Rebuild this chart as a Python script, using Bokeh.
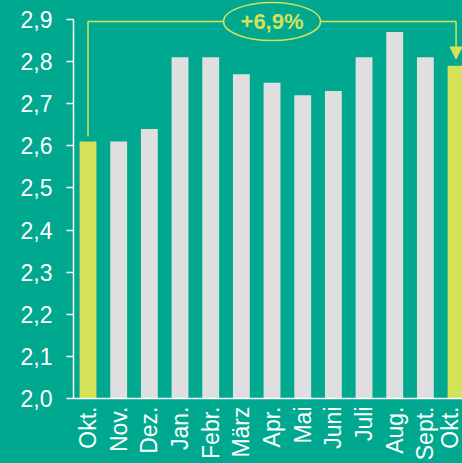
import numpy as np
from bokeh.plotting import figure
from bokeh.models import Range1d, FixedTicker, Arrow, NormalHead, ColumnDataSource
from bokeh.core.properties import value
from bokeh.embed import file_html
from bokeh.resources import INLINE

months = ["Okt.", "Nov.", "Dez.", "Jan.", "Febr.", "März", "Apr.", "Mai", "Juni", "Juli", "Aug.", "Sept.", "Okt."]
values = [2.61, 2.61, 2.64, 2.81, 2.81, 2.77, 2.75, 2.72, 2.73, 2.81, 2.87, 2.81, 2.79]
y_ticks = [2.0, 2.1, 2.2, 2.3, 2.4, 2.5, 2.6, 2.7, 2.8, 2.9]

BG = "#00a88f"
GRAY = "#dedfde"
LIME = "#d4e25a"
FONT = "Liberation Sans"

xs = list(range(len(months)))
colors = [LIME if i in (0, len(months) - 1) else GRAY for i in xs]
src = ColumnDataSource(dict(x=xs, top=values, color=colors))

p = figure(width=462, height=463, output_backend="svg", toolbar_location=None,
           x_range=Range1d(-0.473, 12.21), y_range=Range1d(2.0, 2.945),
           min_border_left=73, min_border_right=0, min_border_top=0, min_border_bottom=62)
p.background_fill_color = BG
p.border_fill_color = BG
p.outline_line_color = None
p.grid.visible = False

p.vbar(x="x", top="top", bottom=2.0, width=0.55, color="color", line_color=None, source=src)

# y axis
ya = p.yaxis[0]
ya.ticker = FixedTicker(ticks=y_ticks)
ya.major_label_overrides = {t: f"{t:.1f}".replace(".", ",") for t in y_ticks}
ya.bounds = (y_ticks[0], y_ticks[-1])
ya.axis_line_color = "white"
ya.axis_line_width = 1.5
ya.major_tick_line_color = "white"
ya.major_tick_line_width = 1.5
ya.major_tick_out = 7
ya.major_tick_in = 0
ya.minor_tick_line_color = None
ya.major_label_standoff = 14
ya.major_label_text_color = "white"
ya.major_label_text_font = FONT
ya.major_label_text_font_size = "23px"

# x axis
xa = p.xaxis[0]
xa.ticker = FixedTicker(ticks=xs)
xa.major_label_overrides = {i: m for i, m in enumerate(months)}
xa.major_label_orientation = np.pi / 2
xa.axis_line_color = "white"
xa.axis_line_width = 1.5
xa.major_tick_line_color = None
xa.minor_tick_line_color = None
xa.major_tick_out = 0
xa.major_tick_in = 0
xa.major_label_standoff = 8
xa.major_label_text_color = "white"
xa.major_label_text_font = FONT
xa.major_label_text_font_size = "23px"

# bracket annotation
first, last = 0, len(values) - 1
top_y = max(values) + 0.025
p.line([xs[first], xs[first], xs[last]], [values[first] + 0.012, top_y, top_y],
       line_color=LIME, line_width=1.5)
p.add_layout(Arrow(end=NormalHead(size=12, fill_color=LIME, line_color=LIME, line_width=1),
                   x_start=xs[last], y_start=top_y, x_end=xs[last], y_end=values[last] + 0.016,
                   line_color=LIME, line_width=1.5))
mid = (xs[first] + xs[last]) / 2
change = (values[last] / values[first] - 1) * 100
label = "+" + f"{change:.1f}".replace(".", ",") + "%"
p.ellipse(x=[mid], y=[top_y], width=97, height=38, width_units="screen",
          height_units="screen", fill_color=BG, line_color=LIME, line_width=1.5)
p.text(x=[mid], y=[top_y], text=[label], text_align="center", text_baseline="middle",
       text_color=LIME, text_font=value(FONT), text_font_style="bold", text_font_size="22px")

html = file_html(p, INLINE)
html = html.replace("</head>", "<style>html,body{background:%s;}</style></head>" % BG, 1)
open("out.html", "w").write(html)
